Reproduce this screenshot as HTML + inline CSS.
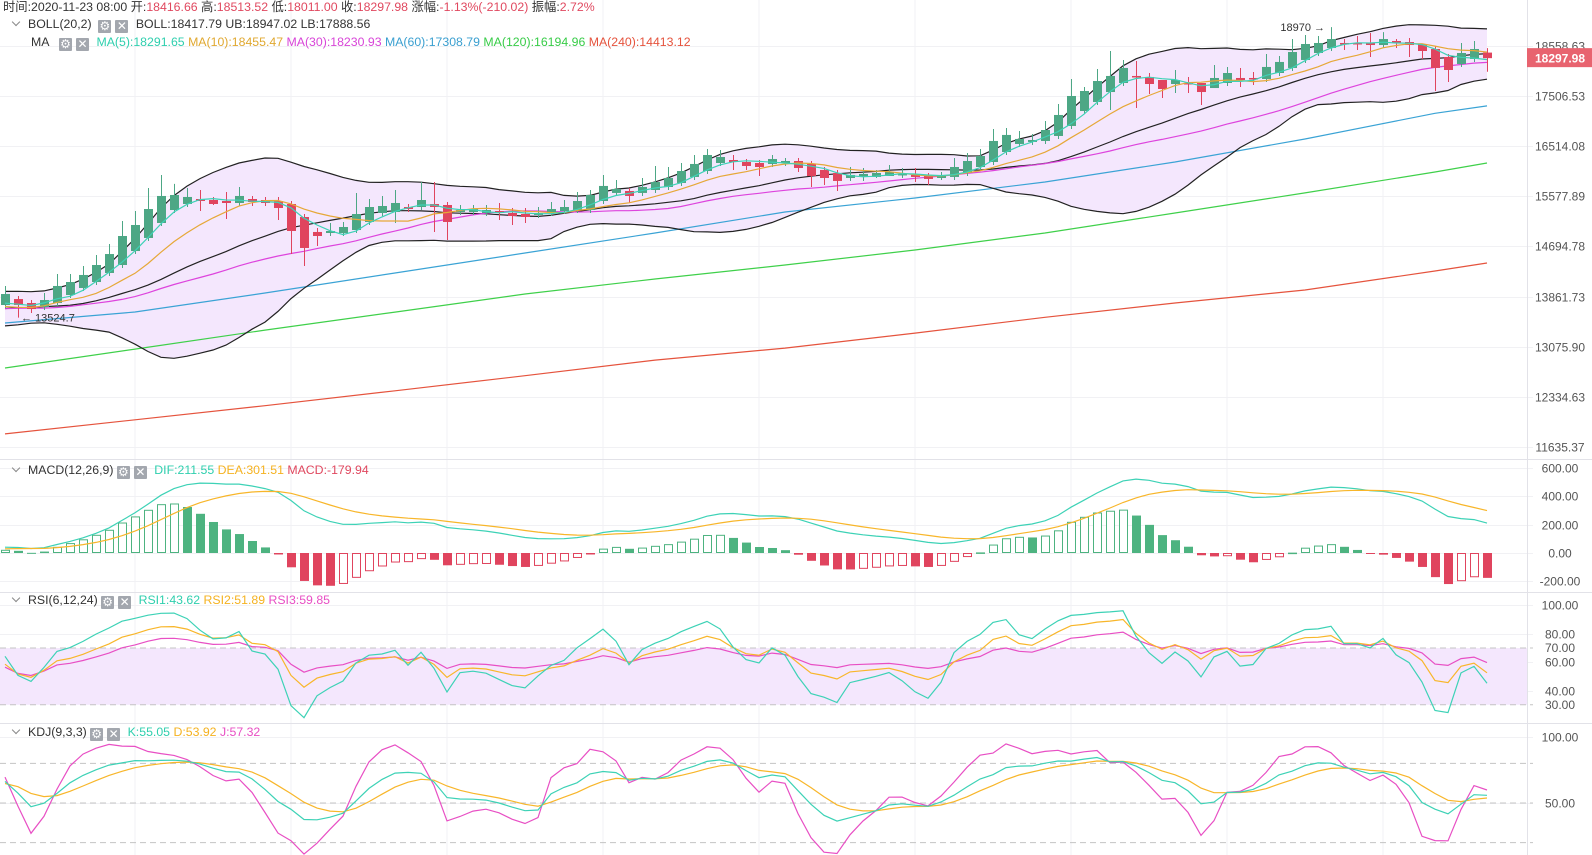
<!DOCTYPE html>
<html><head><meta charset="utf-8">
<style>
body{margin:0;background:#fff;}
#wrap{position:relative;width:1592px;height:855px;overflow:hidden;font-family:"Liberation Sans","Noto Sans CJK SC",sans-serif;font-size:12.3px;color:#333;}
svg{position:absolute;left:0;top:0;}
.hd{position:absolute;white-space:nowrap;height:16px;line-height:16px;}
.r{color:#e0485f}
.ic{display:inline-block;width:13px;height:13px;line-height:13px;background:#a3a7ae;color:#fff;text-align:center;font-size:12px;border-radius:1px;vertical-align:-2px;margin-right:4px;font-family:"DejaVu Sans",sans-serif;}
.chev{display:inline-block;width:5px;height:5px;border-right:1px solid #888;border-bottom:1px solid #888;transform:rotate(45deg);margin:0 9px 3px 13px;}
</style></head><body>
<div id="wrap">
<svg id="chart" width="1592" height="855"></svg>
<div class="hd" style="left:3px;top:-1px">时间:2020-11-23 08:00 开:<span class="r">18416.66</span> 高:<span class="r">18513.52</span> 低:<span class="r">18011.00</span> 收:<span class="r">18297.98</span> 涨幅:<span class="r">-1.13%(-210.02)</span> 振幅:<span class="r">2.72%</span></div>
<div class="hd" style="left:0;top:16px"><span class="chev"></span>BOLL(20,2) &nbsp;<span class="ic">⚙</span><span class="ic">✕</span> BOLL:18417.79 UB:18947.02 LB:17888.56</div>
<div class="hd" style="left:31px;top:34px">MA &nbsp;&nbsp;<span class="ic">⚙</span><span class="ic">✕</span> <span style="color:#2fcfae">MA(5):18291.65</span> <span style="color:#e0a830">MA(10):18455.47</span> <span style="color:#d845d8">MA(30):18230.93</span> <span style="color:#3a9fd0">MA(60):17308.79</span> <span style="color:#38cc48">MA(120):16194.96</span> <span style="color:#e5533d">MA(240):14413.12</span></div>
<div class="hd" style="left:0;top:462px"><span class="chev"></span>MACD(12,26,9) <span class="ic">⚙</span><span class="ic">✕</span> <span style="color:#2fcfae">DIF:211.55</span> <span style="color:#f5b220">DEA:301.51</span> <span class="r">MACD:-179.94</span></div>
<div class="hd" style="left:0;top:592px"><span class="chev"></span>RSI(6,12,24) <span class="ic">⚙</span><span class="ic">✕</span> <span style="color:#2fcfae">RSI1:43.62</span> <span style="color:#f5b220">RSI2:51.89</span> <span style="color:#e84fc4">RSI3:59.85</span></div>
<div class="hd" style="left:0;top:724px"><span class="chev"></span>KDJ(9,3,3) <span class="ic">⚙</span><span class="ic">✕</span> <span style="color:#2fcfae">K:55.05</span> <span style="color:#f5b220">D:53.92</span> <span style="color:#e84fc4">J:57.32</span></div>
</div>
<script>
const preCloses=[13500,13650,13800,13700,13550,13450,13600,13780,13850,13700,13520,13480,13620,13800,13840,13680,13500,13470,13640,13820,13860,13700,13520,13500,13660,13820,13760,13600,13700];
const opens=[13725,13821,13757,13693,13757,13886,14000,14098,14247,14380,14616,14840,15101,15331,15439,15529,15511,15493,15457,15529,15511,15493,15439,15207,14944,14926,14926,14978,15119,15278,15296,15385,15385,15439,15421,15296,15296,15278,15313,15278,15260,15243,15278,15313,15331,15331,15493,15639,15675,15639,15693,15748,15822,15933,16044,16194,16251,16213,16194,16176,16194,16232,16176,16063,16007,15914,15933,15933,15951,15970,15970,15951,15914,15933,16007,16119,16213,16403,16557,16596,16615,16712,16908,17205,17387,17590,17776,17922,17901,17838,17755,17776,17776,17672,17776,17880,17880,17859,17984,18090,18259,18408,18516,18624,18624,18624,18580,18667,18645,18602,18494,18322,18174,18280,18416.66];
const highs=[14033,13870,13805,13919,14230,14230,14363,14548,14736,15136,15313,15730,15970,15804,15730,15693,15566,15657,15748,15584,15566,15566,15493,15260,15013,15101,15119,15639,15529,15584,15693,15439,15840,15840,15475,15421,15421,15421,15457,15367,15367,15385,15475,15511,15657,15693,15970,15877,15730,15914,16138,16119,16194,16346,16460,16441,16346,16270,16251,16346,16289,16289,16232,16119,16063,16119,16100,16063,16157,16100,16100,16007,16026,16289,16384,16460,16849,16868,16810,16751,17006,17346,17859,17693,18068,18451,18259,18238,17984,17838,18047,17901,17776,18153,18111,18090,18005,18386,18344,18710,18798,18776,18970,18710,18776,18841,18862,18710,18732,18602,18559,18386,18624,18667,18513.52];
const lows=[13677,13524.7,13598,13645,13709,13838,13951,14049,14197,14330,14565,14788,15048,15278,15385,15313,15421,15172,15403,15403,15403,15154,14565,14363,14702,14874,14874,14926,15066,15225,15101,15296,15331,14944,14805,15243,15243,15225,15154,15066,15101,15189,15225,15260,15278,15278,15439,15584,15457,15584,15639,15693,15767,15877,15989,16138,16063,16063,15951,16119,16138,16026,15748,15785,15675,15859,15859,15914,15951,15914,15840,15785,15877,15877,15951,16063,16157,16346,16499,16538,16557,16654,16849,17146,17326,17225,17714,17265,17549,17468,17570,17570,17326,17672,17714,17693,17734,17797,17922,18026,18196,18344,18451,18472,18472,18322,18516,18516,18322,18280,17611,17797,18111,18217,18011.00];
const closes=[13902,13725,13661,13805,14033,14098,14214,14380,14565,14874,15066,15349,15584,15602,15566,15493,15439,15457,15584,15475,15457,15367,14961,14668,14874,14961,15031,15260,15385,15403,15457,15349,15511,15385,15119,15331,15349,15331,15278,15225,15207,15278,15349,15385,15493,15602,15767,15712,15584,15748,15840,15914,16044,16176,16346,16308,16213,16138,16119,16270,16232,16100,15951,15914,15859,15970,15989,16007,16026,15989,15933,15896,15951,16119,16232,16327,16615,16732,16654,16634,16829,17126,17509,17611,17817,17922,18090,17901,17755,17652,17838,17755,17590,17880,17984,17838,17859,18111,18217,18429,18602,18624,18710,18602,18602,18580,18710,18624,18580,18451,18090,18047,18408,18494,18297.98];
const maSampleIdx=[0,10,20,30,40,50,60,70,80,90,100,110,114];
const ma60=[13440,13614,13919,14247,14582,14926,15296,15548,15840,16213,16654,17160,17308.79];
const ma120=[12754,13038,13330,13613,13902,14148,14380,14633,14926,15278,15639,16026,16194.96];
const ma240=[11812,12008,12206,12420,12640,12872,13053,13283,13530,13757,13967,14280,14413.12];
const priceTicks=[18558.63,17506.53,16514.08,15577.89,14694.78,13861.73,13075.90,12334.63,11635.37];
const macdTicks=[600,400,200,0,-200];
const rsiTicks=[100,80,70,60,40,30];
const kdjTicks=[100,50];

const NS='http://www.w3.org/2000/svg';
const svg=document.getElementById('chart');
const AX=1527;
function mk(tag,attrs,parent){const e=document.createElementNS(NS,tag);for(const k in attrs)e.setAttribute(k,attrs[k]);(parent||svg).appendChild(e);return e;}
const xI=i=>5+i*13;
const yP=p=>46+858.5*Math.log(18558.63/p);
const yM=v=>553-v*0.1415;
const yR=v=>648+(70-v)*1.42;
const yK=v=>737+(100-v)*1.32;

const defs=mk('defs',{});
function clip(id,y0,y1){const c=mk('clipPath',{id:id},defs);mk('rect',{x:0,y:y0,width:AX,height:y1-y0},c);}
clip('cm',0,459);clip('cd',460,592);clip('cr',592,723);clip('ck',723,855);

const grid=mk('g',{stroke:'#f1f1f4','stroke-width':1});


for(let i=10;i<115;i+=12){const l=mk('line',{x1:xI(i),x2:xI(i),y1:0,y2:855},grid);

}
function hTicks(ticks,yf,fmt,grp){ticks.forEach(t=>{const y=Math.round(yf(t))+0.5;
const l=mk('line',{x1:0,x2:AX+6,y1:y,y2:y},grid);


const tx=mk('text',{x:1560,y:y+4,'text-anchor':'middle','font-size':12,fill:'#555','font-family':'Liberation Sans,sans-serif'});
tx.textContent=fmt(t);

});}
hTicks(priceTicks,yP,t=>t.toFixed(2),'price');
hTicks(macdTicks,yM,t=>t.toFixed(2),'macd');
hTicks(rsiTicks.filter(t=>t!==70&&t!==30),yR,t=>t.toFixed(2),'rsi');
hTicks(kdjTicks,yK,t=>t.toFixed(2),'kdj');
[70,30].forEach(t=>{const tx=mk('text',{x:1560,y:yR(t)+4,'text-anchor':'middle','font-size':12,fill:'#555','font-family':'Liberation Sans,sans-serif'});
tx.textContent=t.toFixed(2);

});

[459.5,592.5,723.5].forEach(y=>{const l=mk('line',{x1:0,x2:1592,y1:y,y2:y,stroke:'#e2e2e8'});

});
const axl=mk('line',{x1:AX+0.5,x2:AX+0.5,y1:0,y2:855,stroke:'#e2e2e8'});



const all=preCloses.concat(closes);const P=preCloses.length;const N=closes.length;
function maAt(n,i){const k=i+P;if(k-n+1<0)return null;let s=0;for(let j=k-n+1;j<=k;j++)s+=all[j];return s/n;}
const bollMid=[],bollUp=[],bollLo=[],ma5=[],ma10=[],ma30=[];
for(let i=0;i<N;i++){ma5.push(maAt(5,i));ma10.push(maAt(10,i));ma30.push(maAt(30,i));
const m=maAt(20,i);let v=0;for(let j=i+P-19;j<=i+P;j++)v+=(all[j]-m)**2;const sd=Math.sqrt(v/20);
bollMid.push(m);bollUp.push(m+2*sd);bollLo.push(m-2*sd);}
let e12=all[0],e26=all[0],dea=0;const dif=[],deaA=[],hist=[];
all.forEach((c,k)=>{e12=e12+(c-e12)*2/13;e26=e26+(c-e26)*2/27;const d=e12-e26;dea=dea+(d-dea)*2/10;
if(k>=P){dif.push(d);deaA.push(dea);hist.push(2*(d-dea));}});
function rsi(n){let up=0,dn=0;const out=[];for(let k=1;k<all.length;k++){const ch=all[k]-all[k-1];up=(Math.max(ch,0)+(n-1)*up)/n;dn=(Math.abs(ch)+(n-1)*dn)/n;if(k>=P)out.push(dn===0?50:up/dn*100);}return out;}
const rsi6=rsi(6),rsi12=rsi(12),rsi24=rsi(24);
let K=68,D=64;const kA=[],dA=[],jA=[];
for(let i=0;i<N;i++){let hh=-1e9,ll=1e9;for(let j=Math.max(0,i-8);j<=i;j++){hh=Math.max(hh,highs[j]);ll=Math.min(ll,lows[j]);}
const rsv=hh===ll?50:(closes[i]-ll)/(hh-ll)*100;K=(2*K+rsv)/3;D=(2*D+K)/3;kA.push(K);dA.push(D);jA.push(3*K-2*D);}

function line(vals,yf,color,cp,name,idx){let pts=[];vals.forEach((v,j)=>{if(v==null)return;const i=idx?idx[j]:j;pts.push(xI(i).toFixed(1)+','+yf(v).toFixed(1));});
const pl=mk('polyline',{points:pts.join(' '),fill:'none',stroke:color,'stroke-width':1.2,'clip-path':'url(#'+cp+')'});

return pl;}

let fp=[];for(let i=0;i<N;i++)fp.push(xI(i)+','+yP(bollUp[i]).toFixed(1));for(let i=N-1;i>=0;i--)fp.push(xI(i)+','+yP(bollLo[i]).toFixed(1));
const bf=mk('polygon',{points:fp.join(' '),fill:'#f4e7fd','clip-path':'url(#cm)'});


line(ma240,yP,'#e5533d','cm','ma240-line',maSampleIdx);
line(ma120,yP,'#3fd04a','cm','ma120-line',maSampleIdx);
line(ma60,yP,'#3aa3d5','cm','ma60-line',maSampleIdx);
line(bollUp,yP,'#222','cm','boll-upper-line');
line(bollLo,yP,'#222','cm','boll-lower-line');
line(bollMid,yP,'#222','cm','boll-mid-line');
line(ma30,yP,'#dd44dd','cm','ma30-line');
const cg=mk('g',{'clip-path':'url(#cm)'});


for(let i=0;i<N;i++){const up=closes[i]>=opens[i];const col=up?'#4da785':'#e0445e';const x=xI(i);
const w=mk('line',{x1:x+0.5,x2:x+0.5,y1:yP(highs[i]),y2:yP(lows[i]),stroke:col},cg);


const y1=yP(Math.max(opens[i],closes[i])),y2=yP(Math.min(opens[i],closes[i]));
const b=mk('rect',{x:x-4,y:y1,width:9,height:Math.max(1.5,y2-y1),fill:col},cg);

}
line(ma10,yP,'#e6a838','cm','ma10-line');
line(ma5,yP,'#3dd2b6','cm','ma5-line');
let hiI=0,loI=0;highs.forEach((h,i)=>{if(h>highs[hiI])hiI=i;});lows.forEach((l,i)=>{if(l<lows[loI])loI=i;});
const ah=mk('text',{x:xI(hiI)-6,y:yP(highs[hiI])+4,'text-anchor':'end','font-size':11,fill:'#333','font-family':'Liberation Sans,DejaVu Sans,sans-serif'});
ah.textContent=Math.round(highs[hiI])+' →';


const al=mk('text',{x:xI(loI)+3,y:yP(lows[loI])+4,'font-size':11,fill:'#333','font-family':'Liberation Sans,DejaVu Sans,sans-serif'});
al.textContent='← '+lows[loI];


const lp=closes[N-1];const ly=yP(lp);
const tg=mk('rect',{x:AX,y:ly-10,width:65,height:19,fill:'#e8636f'});


const tt=mk('text',{x:1560,y:ly+4.5,'text-anchor':'middle','font-size':12,'font-weight':'bold',fill:'#fff','font-family':'Liberation Sans,sans-serif'});
tt.textContent=lp.toFixed(2);



const mg=mk('g',{'clip-path':'url(#cd)'});


for(let i=0;i<N;i++){const v=hist[i],pv=i>0?hist[i-1]:0;const pos=v>=0;const col=pos?'#4db380':'#e0445e';
const hollow=(v>=pv);const y0=yM(0),y1=yM(v);const top=Math.min(y0,y1),h=Math.max(1,Math.abs(y1-y0));
const r=mk('rect',hollow?{x:xI(i)-3.5,y:top+0.5,width:8,height:Math.max(0.5,h-1),fill:'#fff',stroke:col,'stroke-width':1}:{x:xI(i)-4,y:top,width:9,height:h,fill:col},mg);

}
line(dif,yM,'#3dd2b6','cd','dif-line');
line(deaA,yM,'#f8b62a','cd','dea-line');

const rf=mk('rect',{x:0,y:yR(70),width:AX,height:yR(30)-yR(70),fill:'#f4e7fd'});


[70,30].forEach(t=>{const l=mk('line',{x1:0,x2:AX+6,y1:yR(t),y2:yR(t),stroke:'#c4c4c4','stroke-dasharray':'6,4'});

});
line(rsi24,yR,'#e84fc4','cr','rsi3-line');
line(rsi12,yR,'#f8b62a','cr','rsi2-line');
line(rsi6,yR,'#3dd2b6','cr','rsi1-line');

[80,50,20].forEach(t=>{const l=mk('line',{x1:0,x2:AX+6,y1:yK(t),y2:yK(t),stroke:'#c4c4c4','stroke-dasharray':'6,4'});

});
line(jA,yK,'#e84fc4','ck','j-line');
line(dA,yK,'#f8b62a','ck','d-line');
line(kA,yK,'#3dd2b6','ck','k-line');
</script>
</body></html>
